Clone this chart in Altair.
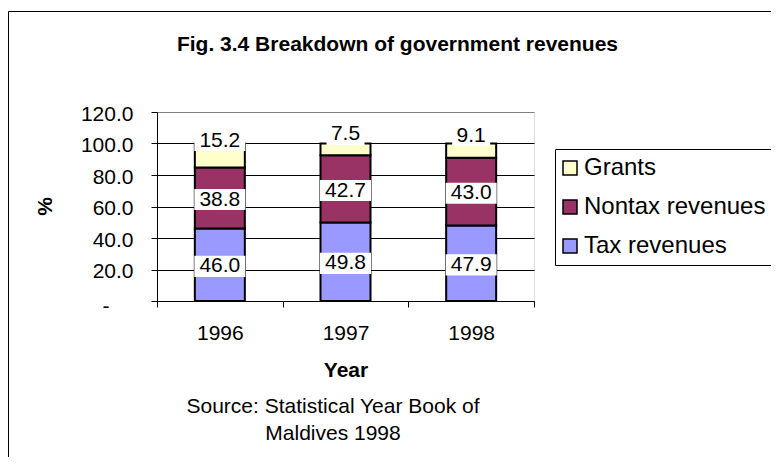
import altair as alt
import pandas as pd

years = ["1996", "1997", "1998"]
tax = [46.0, 49.8, 47.9]
nontax = [38.8, 42.7, 43.0]
grants = [15.2, 7.5, 9.1]
series = ["Tax revenues", "Nontax revenues", "Grants"]
legend_order = ["Grants", "Nontax revenues", "Tax revenues"]
legend_colors = ["#FFFFCC", "#993366", "#9999FF"]
y_ticks = [0, 20, 40, 60, 80, 100, 120]
title_text = "Fig. 3.4 Breakdown of government revenues"
source_lines = ["Source: Statistical Year Book of", "Maldives 1998"]

FONT = "Liberation Sans"

rows = []
for i, yr in enumerate(years):
    for k, (name, vals) in enumerate(zip(series, [tax, nontax, grants])):
        v = vals[i]
        rows.append({"Year": yr, "Series": name, "Value": v, "order": k,
                     "label": f"{v:.1f}"})
df = pd.DataFrame(rows)

W, H = 377, 189

x_axis = alt.Axis(labelAngle=0, labelFont=FONT, labelFontSize=21,
                  labelColor="black", labelPadding=15,
                  tickBand="extent", tickSize=6, tickColor="black",
                  domainColor="black", grid=False,
                  titleFont=FONT, titleFontSize=21, titleFontWeight="bold",
                  titleColor="black", titlePadding=16)
x_scale = alt.Scale(paddingInner=0, paddingOuter=0)

y_axis = alt.Axis(values=y_ticks, tickCount=7, grid=True, labelOverlap=False,
                  gridColor=alt.condition("datum.value === 120", alt.value("#808080"), alt.value("black")),
                  labelExpr="datum.value == 0 ? '-' : format(datum.value, '.1f')",
                  labelFont=FONT, labelFontSize=21, labelColor="black",
                  labelPadding=alt.condition("datum.value === 0", alt.value(42), alt.value(18)),
                  labelOffset=alt.condition("datum.value === 0", alt.value(5), alt.value(2)),
                  tickSize=6, tickColor="black",
                  domainColor="black",
                  title="%", titleFont=FONT, titleFontSize=21, titleFontWeight="bold",
                  titleColor="black", titleAngle=270, titleX=-112, titleY=94,
                  titleAlign="center", titleBaseline="middle")
y_scale = alt.Scale(domain=[0, 120], nice=False)

base = alt.Chart(df)

bars = base.mark_bar(width=50, stroke="black", strokeWidth=2).encode(
    x=alt.X("Year:N", title="Year", scale=x_scale, axis=x_axis),
    y=alt.Y("Value:Q", stack="zero", scale=y_scale, axis=y_axis),
    color=alt.Color("Series:N",
                    scale=alt.Scale(domain=legend_order, range=legend_colors),
                    legend=alt.Legend(orient="none", legendX=398, legendY=37,
                                      title=None, labelFont=FONT, labelFontSize=24,
                                      labelColor="black", symbolType="square",
                                      symbolSize=196, symbolStrokeColor="black",
                                      symbolStrokeWidth=1.5, strokeColor="black",
                                      fillColor="white", padding=7, rowPadding=15,
                                      symbolOffset=-4, labelOffset=2, labelLimit=400)),
    order=alt.Order("order:Q"),
)

lab = base.transform_stack(
    stack="Value", groupby=["Year"], as_=["v0", "v1"],
    sort=[alt.SortField("order", order="ascending")]
).transform_calculate(
    mid="(datum.v0 + datum.v1) / 2 + (datum.Series == 'Grants' ? 9.5 : -1)",
    lo="(datum.v0 + datum.v1) / 2 + (datum.Series == 'Grants' ? 9.5 : -1) - 6.7",
    hi="(datum.v0 + datum.v1) / 2 + (datum.Series == 'Grants' ? 9.5 : -1) + 6.7",
    nchar="length(datum.label)",
)

xl = alt.X("Year:N", title="Year", scale=x_scale, axis=x_axis)

box4 = lab.transform_filter("datum.nchar >= 4").mark_bar(width=51, color="white").encode(
    x=xl, y=alt.Y("lo:Q", scale=y_scale, axis=y_axis), y2="hi:Q")
box3 = lab.transform_filter("datum.nchar < 4").mark_bar(width=38, color="white").encode(
    x=xl, y=alt.Y("lo:Q", scale=y_scale, axis=y_axis), y2="hi:Q")
texts = lab.mark_text(font=FONT, fontSize=21, color="black", baseline="middle").encode(
    x=xl, y=alt.Y("mid:Q", scale=y_scale, axis=y_axis), text="label:N")

one = pd.DataFrame({"k": [0]})
src = alt.Chart(one).mark_text(text=source_lines, font=FONT, fontSize=21,
                                color="black", align="center",
                                baseline="alphabetic", lineHeight=27).encode(
    x=alt.value(176), y=alt.value(301))
hline = alt.Chart(one).mark_rule(color="black", strokeWidth=1).encode(
    x=alt.value(-148.5), x2=alt.value(640), y=alt.value(-100.5))
vline = alt.Chart(one).mark_rule(color="black", strokeWidth=1).encode(
    x=alt.value(-148.5), y=alt.value(-100.5), y2=alt.value(360))

chart = alt.layer(bars, box4, box3, texts, src, hline, vline).properties(
    width=W, height=H,
    title=alt.Title(title_text, font=FONT, fontSize=21, fontWeight="bold",
                    color="black", anchor="middle", frame="group", dx=52,
                    offset=0, dy=44),
    autosize=alt.AutoSizeParams(type="none"),
    padding={"left": 149, "top": 104, "right": 237, "bottom": 156},
).configure_view(
    fill="#C0C0C0", stroke="#808080", strokeWidth=2
).configure(background="white")

chart.save("out.html", embed_options={"renderer": "svg", "actions": False})
